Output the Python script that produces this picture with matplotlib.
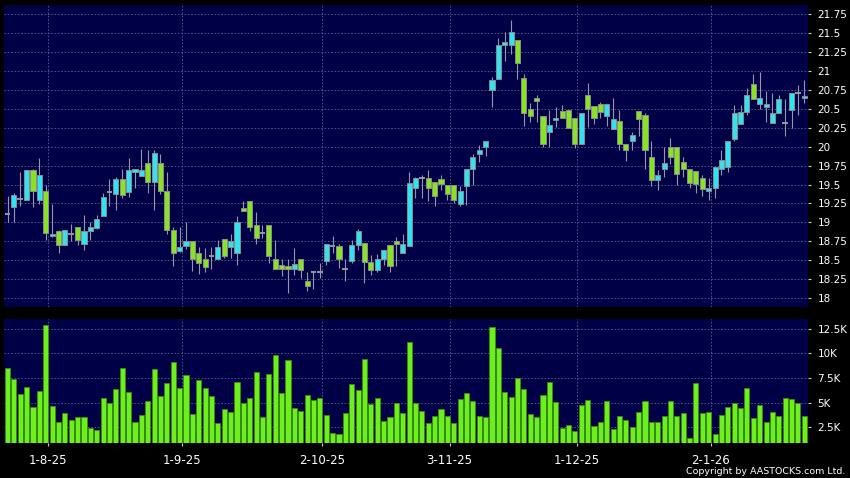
import numpy as np
import matplotlib
matplotlib.use('Agg')
import matplotlib.pyplot as plt
from matplotlib.ticker import FixedLocator, FuncFormatter

# daily OHLC
opens = [19.11, 19.20, 19.31, 19.30, 19.69, 19.30, 19.42, 18.82, 18.88, 18.70,
         18.84, 18.94, 18.72, 18.89, 18.93, 19.08, 19.40, 19.38, 19.57, 19.40,
         19.66, 19.61, 19.78, 19.54, 19.78, 19.42, 18.90, 18.62, 18.69, 18.75,
         18.59, 18.51, 18.55, 18.51, 18.78, 18.68, 18.60, 19.19, 19.28, 18.97,
         18.86, 18.97, 18.51, 18.43, 18.42, 18.38, 18.51, 18.23, 18.35, 18.35,
         18.49, 18.69, 18.69, 18.38, 18.49, 18.70, 18.73, 18.47, 18.37, 18.51,
         18.70, 18.75, 18.59, 18.69, 19.45, 19.58, 19.59, 19.53, 19.57, 19.50,
         19.49, 19.24, 19.48, 19.71, 19.90, 19.99, 20.75, 20.89, 21.34, 21.34,
         21.41, 20.91, 20.50, 20.65, 20.41, 20.20, 20.35, 20.47, 20.49, 20.38,
         20.04, 20.69, 20.54, 20.57, 20.41, 20.23, 20.34, 20.04, 20.08, 20.47,
         20.42, 19.86, 19.56, 19.70, 19.99, 20.00, 19.80, 19.70, 19.68, 19.58,
         19.41, 19.45, 19.70, 19.73, 20.10, 20.30, 20.46, 20.83, 20.57, 20.53,
         20.31, 20.45, 20.31, 20.48, 20.71, 20.65]
highs = [19.35, 19.39, 19.66, 19.69, 19.71, 19.85, 19.50, 19.24, 18.90, 18.90,
         18.98, 18.94, 19.10, 19.00, 19.10, 19.39, 19.57, 19.60, 19.70, 19.85,
         19.71, 19.97, 19.95, 19.95, 19.90, 19.67, 18.94, 18.94, 19.00, 18.75,
         18.68, 18.66, 18.68, 18.77, 18.78, 18.85, 19.08, 19.28, 19.28, 19.14,
         18.97, 18.97, 18.77, 18.51, 18.51, 18.66, 18.51, 18.35, 18.35, 18.46,
         18.71, 18.82, 18.71, 18.51, 18.77, 18.91, 18.73, 18.57, 18.58, 18.63,
         18.70, 18.80, 18.85, 19.66, 19.60, 19.62, 19.69, 19.53, 19.62, 19.50,
         19.49, 19.48, 19.71, 19.90, 20.02, 20.08, 20.92, 21.44, 21.51, 21.68,
         21.41, 20.96, 20.58, 20.69, 20.41, 20.49, 20.53, 20.55, 20.49, 20.38,
         20.45, 20.84, 20.54, 20.59, 20.57, 20.65, 20.49, 20.04, 20.20, 20.47,
         20.45, 20.08, 19.69, 20.00, 20.11, 20.00, 19.86, 19.70, 19.68, 19.62,
         19.58, 19.73, 19.95, 20.07, 20.55, 20.55, 20.77, 20.96, 20.99, 20.74,
         20.71, 20.68, 20.63, 20.71, 20.81, 20.88]
lows = [19.00, 19.00, 19.22, 19.30, 19.20, 19.24, 18.77, 18.81, 18.59, 18.70,
        18.75, 18.70, 18.63, 18.77, 18.91, 19.08, 19.22, 19.16, 19.32, 19.34,
        19.46, 19.61, 19.39, 19.16, 19.38, 18.85, 18.42, 18.61, 18.65, 18.36,
        18.32, 18.34, 18.38, 18.51, 18.53, 18.53, 18.44, 19.15, 18.88, 18.72,
        18.79, 18.46, 18.38, 18.29, 18.07, 18.31, 18.26, 18.09, 18.12, 18.26,
        18.43, 18.60, 18.40, 18.23, 18.46, 18.64, 18.20, 18.30, 18.34, 18.44,
        18.34, 18.42, 18.59, 18.69, 19.32, 19.32, 19.28, 19.21, 19.43, 19.30,
        19.26, 19.21, 19.23, 19.50, 19.80, 19.88, 20.53, 20.89, 21.13, 21.23,
        20.89, 20.28, 20.33, 20.33, 20.00, 20.00, 20.26, 20.38, 20.25, 19.98,
        20.04, 20.26, 20.30, 20.38, 20.28, 20.23, 19.95, 19.81, 19.96, 20.14,
        19.71, 19.48, 19.43, 19.60, 19.77, 19.50, 19.60, 19.45, 19.39, 19.35,
        19.29, 19.32, 19.62, 19.66, 20.08, 20.30, 20.42, 20.63, 20.50, 20.33,
        20.31, 20.45, 20.14, 20.25, 20.42, 20.58]
closes = [19.11, 19.36, 19.31, 19.69, 19.42, 19.62, 18.86, 18.85, 18.70, 18.90,
          18.84, 18.77, 18.88, 18.94, 19.05, 19.33, 19.40, 19.57, 19.36, 19.69,
          19.71, 19.69, 19.54, 19.92, 19.42, 18.90, 18.59, 18.67, 18.75, 18.51,
          18.46, 18.41, 18.55, 18.68, 18.55, 18.76, 19.01, 19.15, 18.94, 18.79,
          18.86, 18.56, 18.38, 18.38, 18.38, 18.45, 18.37, 18.16, 18.35, 18.35,
          18.71, 18.69, 18.51, 18.38, 18.70, 18.89, 18.47, 18.37, 18.51, 18.63,
          18.42, 18.72, 18.72, 19.52, 19.58, 19.58, 19.45, 19.35, 19.51, 19.37,
          19.30, 19.41, 19.71, 19.87, 19.96, 20.08, 20.88, 21.35, 21.38, 21.51,
          21.11, 20.45, 20.41, 20.60, 20.04, 20.29, 20.38, 20.38, 20.25, 20.04,
          20.45, 20.50, 20.38, 20.46, 20.57, 20.37, 20.04, 19.96, 20.15, 20.37,
          19.96, 19.56, 19.62, 19.79, 19.86, 19.64, 19.70, 19.52, 19.51, 19.44,
          19.45, 19.73, 19.82, 20.07, 20.45, 20.46, 20.69, 20.63, 20.64, 20.57,
          20.45, 20.63, 20.31, 20.71, 20.71, 20.67]
# volume in thousands
volume = [8.49, 7.40, 5.83, 6.58, 4.51, 6.17, 12.91, 4.64, 2.98, 3.89,
          3.18, 3.55, 3.55, 2.36, 2.16, 5.49, 4.98, 6.38, 8.49, 6.04,
          2.98, 3.76, 5.15, 8.42, 5.63, 7.02, 9.17, 6.45, 7.84, 3.86,
          7.33, 6.45, 5.66, 2.87, 4.34, 4.03, 7.06, 4.98, 5.46, 8.11,
          3.55, 7.91, 9.88, 5.97, 9.37, 4.47, 4.13, 5.73, 5.22, 5.49,
          3.72, 1.85, 1.79, 3.93, 6.89, 6.24, 9.47, 4.81, 5.46, 3.15,
          3.52, 4.91, 3.93, 11.14, 4.95, 4.13, 2.87, 3.66, 4.37, 3.66,
          2.91, 5.32, 5.94, 5.12, 3.62, 3.49, 12.67, 10.53, 6.04, 5.53,
          7.50, 6.38, 3.83, 3.52, 5.73, 7.13, 5.09, 2.36, 2.70, 2.13,
          4.78, 5.26, 2.64, 3.04, 5.12, 2.26, 3.59, 3.25, 2.50, 4.00,
          5.15, 3.04, 3.04, 3.66, 5.15, 3.62, 3.89, 1.38, 6.96, 3.93,
          4.00, 1.79, 3.69, 4.54, 4.95, 4.40, 6.48, 3.45, 4.74, 3.01,
          4.03, 3.66, 5.43, 5.36, 4.95, 3.62]

# month labels and the trading-day index where each falls
date_labels = ['1-8-25', '1-9-25', '2-10-25', '3-11-25', '1-12-25', '2-1-26']
date_index = [6, 27, 49, 69, 89, 110]
price_ticks = [18, 18.25, 18.5, 18.75, 19, 19.25, 19.5, 19.75, 20, 20.25,
               20.5, 20.75, 21, 21.25, 21.5, 21.75]
vol_ticks = [2.5, 5, 7.5, 10, 12.5]

o = np.array(opens)
h = np.array(highs)
l = np.array(lows)
c = np.array(closes)
x = np.arange(len(o))

BG = '#000046'
GRID = '#5c5c94'
CYAN = '#2fe3f0'
GREEN = '#86e422'
EDGE = '#8c8c8c'
WICK = '#9696a8'

fig = plt.figure(figsize=(8.5, 4.78), dpi=100, facecolor='black')
W, H = 850.0, 478.0
ax1 = fig.add_axes([4 / W, 1 - 306.5 / H, 803.5 / W, 301.5 / H])
ax2 = fig.add_axes([4 / W, 1 - 443.3 / H, 803.5 / W, 124.3 / H])

grid_x = [i + 0.35 for i in date_index]

for ax in (ax1, ax2):
    ax.set_facecolor(BG)
    for s in ax.spines.values():
        s.set_visible(False)
    ax.set_xlim(-0.55, 125.5)
    ax.xaxis.set_major_locator(FixedLocator(grid_x))
    ax.yaxis.tick_right()
    ax.grid(True, color=GRID, lw=0.6, ls=(0, (2, 2)))
    ax.set_axisbelow(True)
    ax.tick_params(axis='y', colors='#cccccc', labelcolor='white', labelsize=7.5,
                   length=2.2, width=0.8, pad=5)

# price candles
ax1.vlines(x, l, h, color=WICK, lw=0.8, zorder=2)
up = c > o
dn = c < o
flat = c == o
ax1.bar(x[up], (c - o)[up], bottom=o[up], width=0.8, color=CYAN,
        edgecolor=EDGE, lw=0.7, zorder=3)
ax1.bar(x[dn], (o - c)[dn], bottom=c[dn], width=0.8, color=GREEN,
        edgecolor=EDGE, lw=0.7, zorder=3)
ax1.hlines(o[flat], x[flat] - 0.45, x[flat] + 0.45, color=WICK, lw=1.4, zorder=3)
ax1.set_ylim(17.888, 21.873)
ax1.yaxis.set_major_locator(FixedLocator(price_ticks))
ax1.yaxis.set_major_formatter(FuncFormatter(lambda v, p: ('%.2f' % v).rstrip('0').rstrip('.')))
ax1.tick_params(axis='x', length=0, labelbottom=False)

# volume bars
ax2.bar(x, volume, width=0.8, color='#6cf01c', edgecolor='#3a8c12', lw=0.6, zorder=3)
ax2.set_ylim(0.837, 13.52)
ax2.yaxis.set_major_locator(FixedLocator(vol_ticks))
ax2.yaxis.set_major_formatter(FuncFormatter(lambda v, p: ('%.1f' % v).rstrip('0').rstrip('.') + 'K'))
ax2.set_xticklabels(date_labels)
ax2.tick_params(axis='x', colors='#cccccc', labelcolor='white', labelsize=8.5,
                length=2.2, width=0.8, pad=5.5)

fig.text(845 / W, 1 - 471.5 / H, 'Copyright by AASTOCKS.com Ltd.', color='white',
         fontsize=6.8, ha='right', va='center')

fig.savefig('out.png', dpi=100, facecolor='black')
